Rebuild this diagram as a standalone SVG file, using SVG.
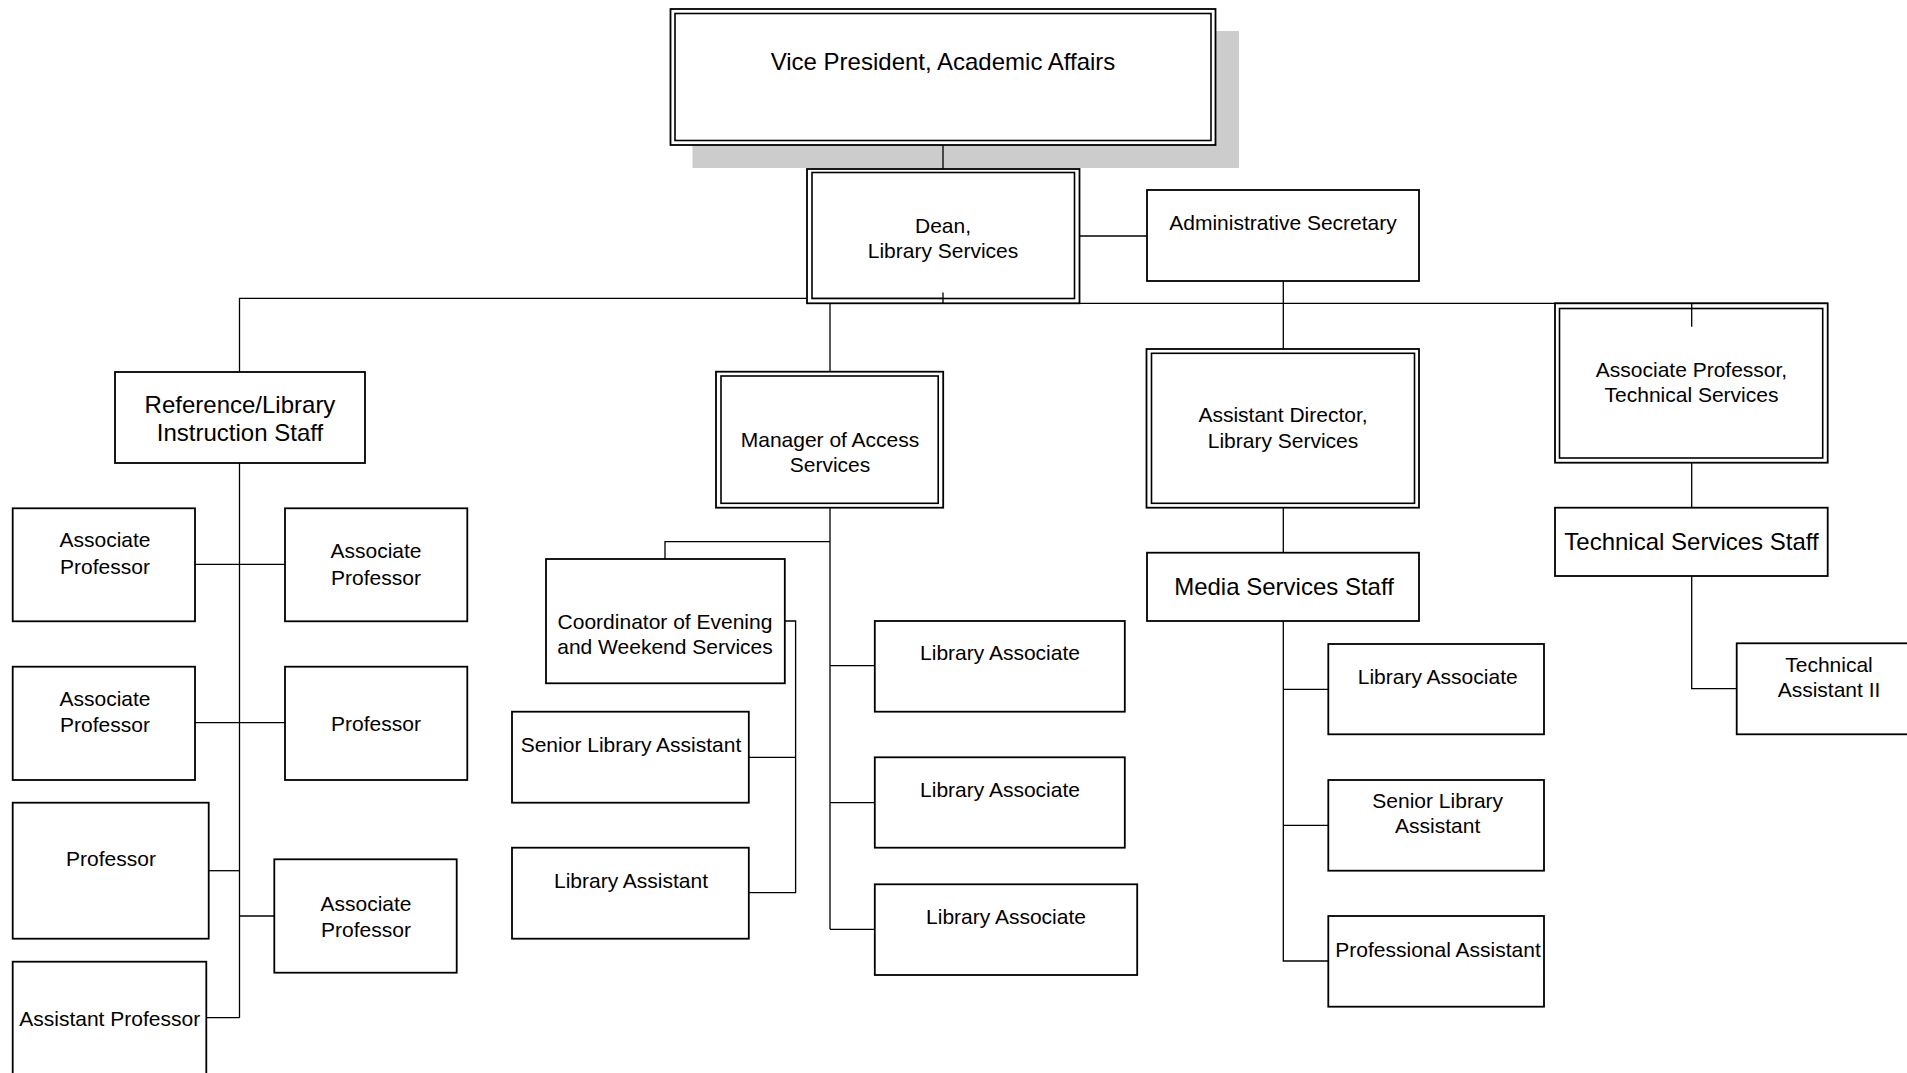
<svg xmlns="http://www.w3.org/2000/svg" width="1907" height="1073" viewBox="0 0 1907 1073">
<style>
  .box{fill:#fff;stroke:#000;stroke-width:1.8}
  .dbl{fill:none;stroke:#000;stroke-width:1.6}
  .shadow{fill:#cccccc;stroke:none}
  .t{font-family:"Liberation Sans",Arial,sans-serif;font-size:21px;fill:#000;text-anchor:middle}
  .big{font-size:24px}
  .conn{fill:none;stroke:#000;stroke-width:1.3}
</style>
<rect width="1907" height="1073" fill="#fff"/>

<g id="vp">
  <rect class="shadow" x="692.5" y="31" width="546.5" height="137"/>
  <rect class="box" x="670.5" y="9" width="545" height="136"/>
  <rect class="dbl" x="675" y="13.5" width="536" height="127"/>
  <text class="t big" x="943" y="70">Vice President, Academic Affairs</text>
</g>

<g id="connectors">
  <!-- VP to Dean -->
  <line class="conn" x1="943" y1="145" x2="943" y2="169"/>
  <!-- Dean to Admin -->
  <line class="conn" x1="1079.5" y1="236" x2="1147" y2="236"/>
  <!-- left main branch -->
  <polyline class="conn" points="943,298.3 239.5,298.3 239.5,372"/>
  <line class="conn" x1="943" y1="292.5" x2="943" y2="303"/>
  <!-- right main branch -->
  <line class="conn" x1="830" y1="303.3" x2="1827.7" y2="303.3"/>
  <line class="conn" x1="830" y1="303.3" x2="830" y2="371.7"/>
  <line class="conn" x1="1691.7" y1="303.3" x2="1691.7" y2="326.7"/>
  <!-- Reference spine -->
  <line class="conn" x1="239.5" y1="463" x2="239.5" y2="1017.7"/>
  <line class="conn" x1="195" y1="564.3" x2="285" y2="564.3"/>
  <line class="conn" x1="195" y1="722.7" x2="285" y2="722.7"/>
  <line class="conn" x1="208.7" y1="870.7" x2="239.5" y2="870.7"/>
  <line class="conn" x1="239.5" y1="916" x2="274.3" y2="916"/>
  <line class="conn" x1="206.3" y1="1017.7" x2="239.5" y2="1017.7"/>
  <!-- Manager spine -->
  <line class="conn" x1="830" y1="507.7" x2="830" y2="929.3"/>
  <polyline class="conn" points="830,541.7 665,541.7 665,559"/>
  <line class="conn" x1="830" y1="665.7" x2="874.8" y2="665.7"/>
  <line class="conn" x1="830" y1="802.7" x2="874.8" y2="802.7"/>
  <line class="conn" x1="830" y1="929.3" x2="874.8" y2="929.3"/>
  <!-- Coordinator side -->
  <polyline class="conn" points="784.8,621 795.6,621 795.6,892.7 748.8,892.7"/>
  <line class="conn" x1="748.8" y1="757.3" x2="795.6" y2="757.3"/>
  <!-- Admin to Asst Director -->
  <line class="conn" x1="1283.3" y1="281" x2="1283.3" y2="349"/>
  <line class="conn" x1="1283.3" y1="507.7" x2="1283.3" y2="552.7"/>
  <!-- Media spine -->
  <polyline class="conn" points="1283.3,621 1283.3,961 1328.3,961"/>
  <line class="conn" x1="1283.3" y1="689.3" x2="1328.3" y2="689.3"/>
  <line class="conn" x1="1283.3" y1="825.3" x2="1328.3" y2="825.3"/>
  <!-- Tech services -->
  <line class="conn" x1="1691.7" y1="462.7" x2="1691.7" y2="507.7"/>
  <polyline class="conn" points="1691.7,576 1691.7,688.7 1736.7,688.7"/>
</g>

<g id="dean">
  <rect class="box" x="807" y="169" width="272.5" height="134.3"/>
  <rect class="dbl" x="812" y="172.5" width="262.5" height="126"/>
  <line class="conn" x1="812" y1="298.3" x2="943" y2="298.3"/>
  <line class="conn" x1="943" y1="292.5" x2="943" y2="303"/>
  <text class="t" x="943" y="233">Dean,</text>
  <text class="t" x="943" y="258">Library Services</text>
</g>

<g id="admin-secretary">
  <rect class="box" x="1147" y="190" width="272" height="91"/>
  <text class="t" x="1283" y="230">Administrative Secretary</text>
</g>

<g id="reference-library">
  <rect class="box" x="115" y="372" width="250" height="91"/>
  <text class="t big" x="240" y="412.7">Reference/Library</text>
  <text class="t big" x="240" y="440.7">Instruction Staff</text>
</g>

<g id="assoc-prof-1">
  <rect class="box" x="12.7" y="508.3" width="182.3" height="113"/>
  <text class="t" x="105" y="546.7">Associate</text>
  <text class="t" x="105" y="574">Professor</text>
</g>
<g id="assoc-prof-2">
  <rect class="box" x="285" y="508.3" width="182.3" height="113"/>
  <text class="t" x="376" y="558.3">Associate</text>
  <text class="t" x="376" y="585">Professor</text>
</g>
<g id="assoc-prof-3">
  <rect class="box" x="12.7" y="666.7" width="182.3" height="113.3"/>
  <text class="t" x="105" y="705.7">Associate</text>
  <text class="t" x="105" y="732.3">Professor</text>
</g>
<g id="professor-1">
  <rect class="box" x="285" y="666.7" width="182.3" height="113.3"/>
  <text class="t" x="376" y="730.7">Professor</text>
</g>
<g id="professor-2">
  <rect class="box" x="12.7" y="802.7" width="196" height="136"/>
  <text class="t" x="111" y="865.7">Professor</text>
</g>
<g id="assoc-prof-4">
  <rect class="box" x="274.3" y="859.3" width="182.4" height="113.4"/>
  <text class="t" x="366" y="910.7">Associate</text>
  <text class="t" x="366" y="936.7">Professor</text>
</g>
<g id="assistant-prof">
  <rect class="box" x="12.7" y="961.7" width="193.6" height="130"/>
  <text class="t" x="109.7" y="1025.7">Assistant Professor</text>
</g>

<g id="manager-access">
  <rect class="box" x="716" y="371.7" width="227.2" height="136"/>
  <rect class="dbl" x="721" y="376" width="217.2" height="127.3"/>
  <text class="t" x="830" y="447.3">Manager of Access</text>
  <text class="t" x="830" y="472.3">Services</text>
</g>
<g id="coordinator">
  <rect class="box" x="546" y="559" width="238.8" height="124.3"/>
  <text class="t" x="665" y="629.3">Coordinator of Evening</text>
  <text class="t" x="665" y="654">and Weekend Services</text>
</g>
<g id="senior-lib-asst-1">
  <rect class="box" x="512" y="711.7" width="236.8" height="91"/>
  <text class="t" x="631" y="751.7">Senior Library Assistant</text>
</g>
<g id="lib-asst-1">
  <rect class="box" x="512" y="847.7" width="236.8" height="91"/>
  <text class="t" x="631" y="888.3">Library Assistant</text>
</g>
<g id="lib-assoc-1">
  <rect class="box" x="874.8" y="621" width="250" height="90.7"/>
  <text class="t" x="1000" y="660">Library Associate</text>
</g>
<g id="lib-assoc-2">
  <rect class="box" x="874.8" y="757.3" width="250" height="90.4"/>
  <text class="t" x="1000" y="796.7">Library Associate</text>
</g>
<g id="lib-assoc-3">
  <rect class="box" x="874.8" y="884.3" width="262.4" height="90.7"/>
  <text class="t" x="1006" y="924">Library Associate</text>
</g>

<g id="asst-director">
  <rect class="box" x="1146.5" y="349" width="272.5" height="158.7"/>
  <rect class="dbl" x="1151.5" y="353.3" width="263" height="150"/>
  <text class="t" x="1283" y="422.3">Assistant Director,</text>
  <text class="t" x="1283" y="447.7">Library Services</text>
</g>
<g id="media-services">
  <rect class="box" x="1147" y="552.7" width="272" height="68.3"/>
  <text class="t big" x="1284" y="595">Media Services Staff</text>
</g>
<g id="lib-assoc-media">
  <rect class="box" x="1328.3" y="644" width="215.7" height="90.3"/>
  <text class="t" x="1437.7" y="684">Library Associate</text>
</g>
<g id="senior-lib-asst-media">
  <rect class="box" x="1328.3" y="780" width="215.7" height="90.7"/>
  <text class="t" x="1437.7" y="807.7">Senior Library</text>
  <text class="t" x="1437.7" y="832.7">Assistant</text>
</g>
<g id="professional-asst">
  <rect class="box" x="1328.3" y="916" width="215.7" height="90.7"/>
  <text class="t" x="1438" y="956.7">Professional Assistant</text>
</g>

<g id="assoc-prof-tech">
  <rect class="box" x="1555" y="303.3" width="272.7" height="159.4"/>
  <rect class="dbl" x="1559.5" y="308.5" width="263.2" height="149.5"/>
  <line class="conn" x1="1691.7" y1="303.3" x2="1691.7" y2="326.7"/>
  <text class="t" x="1691.5" y="377.3">Associate Professor,</text>
  <text class="t" x="1691.5" y="402.3">Technical Services</text>
</g>
<g id="tech-services-staff">
  <rect class="box" x="1555" y="507.7" width="272.7" height="68.3"/>
  <text class="t big" x="1691.5" y="550">Technical Services Staff</text>
</g>
<g id="tech-asst-2">
  <rect class="box" x="1736.7" y="643.3" width="184.3" height="91"/>
  <text class="t" x="1829" y="671.7">Technical</text>
  <text class="t" x="1829" y="696.7">Assistant II</text>
</g>
</svg>
